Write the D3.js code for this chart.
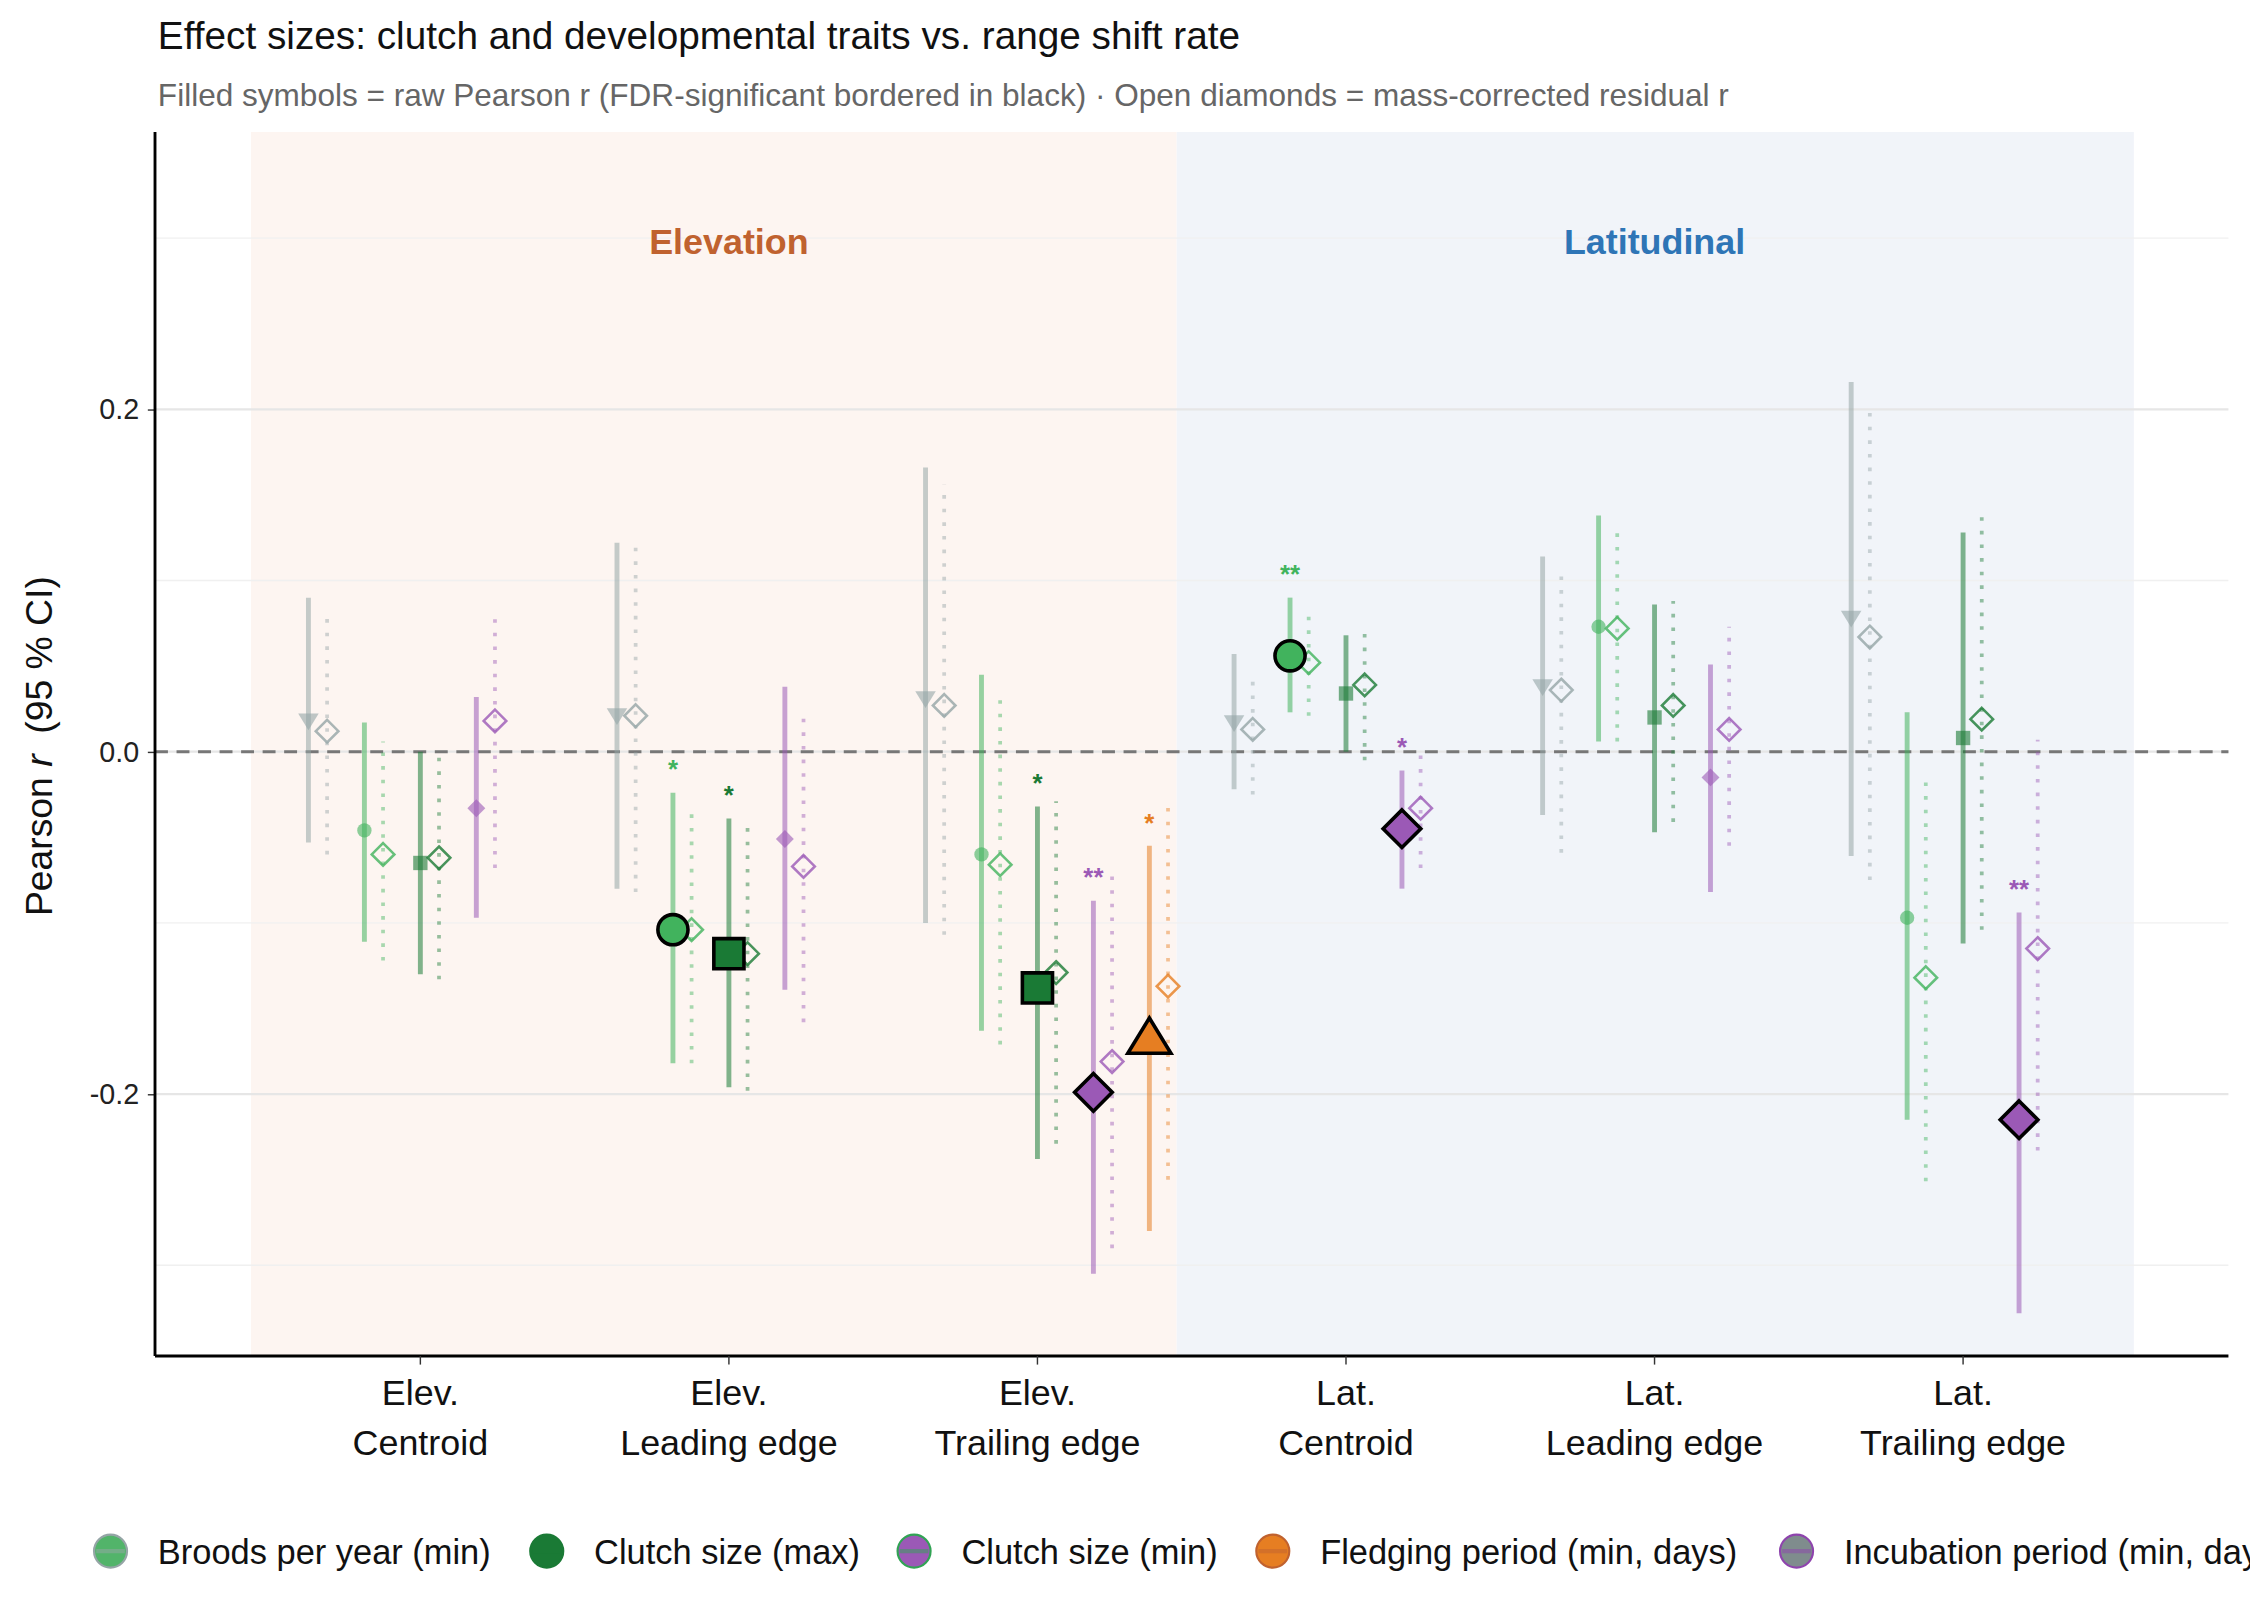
<!DOCTYPE html>
<html><head><meta charset="utf-8">
<script src="https://cdn.jsdelivr.net/npm/d3@7"></script>
<style>body{margin:0;background:#fff}svg{display:block;font-family:"Liberation Sans",Arial,sans-serif}</style>
</head><body>
<svg id="chart" width="2250" height="1620" viewBox="0 0 1568 1129"></svg>
<script>
const categories = ['Elev.|Centroid', 'Elev.|Leading edge', 'Elev.|Trailing edge', 'Lat.|Centroid', 'Lat.|Leading edge', 'Lat.|Trailing edge'];
const traits = ['Incubation period (min, days)', 'Broods per year (min)', 'Clutch size (max)', 'Clutch size (min)', 'Fledging period (min, days)'];
const yTicks = [0.2, 0.0, -0.2];

// raw r, lo, hi per category (null = not tested)
const incubRaw = [[0.018, -0.053, 0.09], [0.021, -0.08, 0.122], [0.031, -0.1, 0.166], [0.017, -0.022, 0.057], [0.038, -0.037, 0.114], [0.078, -0.061, 0.216]];
const broodsRaw = [[-0.046, -0.111, 0.017], [-0.104, -0.182, -0.024], [-0.06, -0.163, 0.045], [0.056, 0.023, 0.09], [0.073, 0.006, 0.138], [-0.097, -0.215, 0.023]];
const clutchMaxRaw = [[-0.065, -0.13, 0.0], [-0.118, -0.196, -0.039], [-0.138, -0.238, -0.032], [0.034, 0.0, 0.068], [0.02, -0.047, 0.086], [0.008, -0.112, 0.128]];
const clutchMinRaw = [[-0.033, -0.097, 0.032], [-0.051, -0.139, 0.038], [-0.199, -0.305, -0.087], [-0.045, -0.08, -0.011], [-0.015, -0.082, 0.051], [-0.215, -0.328, -0.094]];
const fledgingRaw = [null, null, [-0.167, -0.28, -0.055], null, null, null];

// mass-corrected residual r, lo, hi
const incubRes = [[0.012, -0.06, 0.079], [0.021, -0.082, 0.12], [0.027, -0.107, 0.156], [0.013, -0.025, 0.045], [0.036, -0.059, 0.107], [0.067, -0.075, 0.2]];
const broodsRes = [[-0.06, -0.122, 0.006], [-0.104, -0.182, -0.033], [-0.066, -0.171, 0.03], [0.052, 0.021, 0.083], [0.072, 0.006, 0.132], [-0.132, -0.251, -0.017]];
const clutchMaxRes = [[-0.062, -0.133, 0.002], [-0.118, -0.198, -0.039], [-0.129, -0.229, -0.029], [0.039, -0.005, 0.07], [0.027, -0.041, 0.088], [0.019, -0.104, 0.139]];
const clutchMinRes = [[0.018, -0.068, 0.079], [-0.067, -0.158, 0.023], [-0.181, -0.29, -0.068], [-0.033, -0.068, 0.0], [0.013, -0.055, 0.073], [-0.115, -0.233, 0.007]];
const fledgingRes = [null, null, [-0.137, -0.25, -0.03], null, null, null];

// FDR significance stars of raw r
const incubSig = ['', '', '', '', '', ''];
const broodsSig = ['', '*', '', '**', '', ''];
const clutchMaxSig = ['', '*', '*', '', '', ''];
const clutchMinSig = ['', '', '**', '*', '', '**'];
const fledgingSig = ['', '', '*', '', '', ''];

const traitRaw = [incubRaw, broodsRaw, clutchMaxRaw, clutchMinRaw, fledgingRaw];
const traitRes = [incubRes, broodsRes, clutchMaxRes, clutchMinRes, fledgingRes];
const traitSig = [incubSig, broodsSig, clutchMaxSig, clutchMinSig, fledgingSig];
const traitColor = ['#95a5a6', '#41b35d', '#1a7a35', '#9b59b6', '#e67e22'];
const traitShape = ['triDown', 'circle', 'square', 'diamond', 'triangle'];
const dodge = [-78, -39, 0, 39, 78];

const svg = d3.select('#chart');
const L = 108, R = 1553, T = 92, B = 945;

const x = d3.scalePoint().domain(categories).range([L, R]).padding(0.86);
const y = d3.scaleLinear().domain([-0.353, 0.362]).range([B, T]);

// facet shading
svg.append('rect').attr('x', x(categories[0]) - 118).attr('y', T)
  .attr('width', x(categories[2]) + 97 - (x(categories[0]) - 118)).attr('height', B - T).attr('fill', '#fdf5f1');
svg.append('rect').attr('x', x(categories[3]) - 118).attr('y', T)
  .attr('width', x(categories[5]) + 119 - (x(categories[3]) - 118)).attr('height', B - T).attr('fill', '#f1f4f9');

// grid
[-0.3, -0.1, 0.1, 0.3].forEach(v => svg.append('line').attr('x1', L).attr('x2', R)
  .attr('y1', y(v)).attr('y2', y(v)).attr('stroke', '#f0f0f0').attr('stroke-width', 1));
yTicks.forEach(v => svg.append('line').attr('x1', L).attr('x2', R)
  .attr('y1', y(v)).attr('y2', y(v)).attr('stroke', '#e6e6e6').attr('stroke-width', 1.5));

svg.append('text').attr('x', (x(categories[0]) + x(categories[2])) / 2).attr('y', 177)
  .attr('text-anchor', 'middle').attr('font-size', 25).attr('font-weight', 'bold').attr('fill', '#c0622f').text('Elevation');
svg.append('text').attr('x', (x(categories[3]) + x(categories[5])) / 2).attr('y', 177)
  .attr('text-anchor', 'middle').attr('font-size', 25).attr('font-weight', 'bold').attr('fill', '#2e75b6').text('Latitudinal');

svg.append('line').attr('x1', L).attr('x2', R).attr('y1', y(0)).attr('y2', y(0))
  .attr('stroke', '#777').attr('stroke-width', 2).attr('stroke-dasharray', '9,6');

function symPath(shape, s) {
  if (shape === 'circle') return d3.symbol(d3.symbolCircle, Math.PI * s * s)();
  if (shape === 'square') return d3.symbol(d3.symbolSquare, 4 * s * s)();
  if (shape === 'diamond') return `M0,${-s * 1.25}L${s * 1.25},0L0,${s * 1.25}L${-s * 1.25},0Z`;
  const h = s * 1.3;
  if (shape === 'triangle') return `M0,${-h}L${h * 1.1},${h * 0.8}L${-h * 1.1},${h * 0.8}Z`;
  return `M0,${h}L${h * 1.1},${-h * 0.8}L${-h * 1.1},${-h * 0.8}Z`;
}

const g = svg.append('g');
traits.forEach((t, ti) => {
  categories.forEach((c, ci) => {
    const raw = traitRaw[ti][ci], res = traitRes[ti][ci];
    if (!raw) return;
    const cx = x(c) + dodge[ti];
    const col = traitColor[ti];
    const sig = traitSig[ti][ci] !== '';
    // residual dotted CI + open diamond
    g.append('line').attr('x1', cx + 13).attr('x2', cx + 13).attr('y1', y(res[1])).attr('y2', y(res[2]))
      .attr('stroke', col).attr('stroke-opacity', 0.45).attr('stroke-width', 2.6).attr('stroke-dasharray', '2.5,7');
    // raw CI
    g.append('line').attr('x1', cx).attr('x2', cx).attr('y1', y(raw[1])).attr('y2', y(raw[2]))
      .attr('stroke', col).attr('stroke-opacity', 0.55).attr('stroke-width', 3.4);
    g.append('path').attr('d', symPath('diamond', 6.3)).attr('transform', `translate(${cx + 13},${y(res[0])})`)
      .attr('fill', 'none').attr('stroke', col).attr('stroke-opacity', 0.8).attr('stroke-width', 1.8);
    if (sig) {
      g.append('path').attr('d', symPath(traitShape[ti], 10.5)).attr('transform', `translate(${cx},${y(raw[0])})`)
        .attr('fill', col).attr('stroke', '#000').attr('stroke-width', 2.5);
      g.append('text').attr('x', cx).attr('y', y(raw[2]) - 10).attr('text-anchor', 'middle')
        .attr('font-size', 18).attr('font-weight', 'bold').attr('fill', col).text(traitSig[ti][ci]);
    } else {
      g.append('path').attr('d', symPath(traitShape[ti], 5)).attr('transform', `translate(${cx},${y(raw[0])})`)
        .attr('fill', col).attr('fill-opacity', 0.6);
    }
  });
});

// axes
const ya = svg.append('g').attr('transform', `translate(${L},0)`)
  .call(d3.axisLeft(y).tickValues(yTicks).tickFormat(d => d3.format('.1f')(d).replace('−', '-')).tickSize(5));
ya.select('.domain').remove();
ya.selectAll('text').attr('font-size', 20).attr('fill', '#222').attr('dx', -3);
ya.selectAll('line').attr('stroke', '#333');
svg.append('line').attr('x1', L).attr('x2', L).attr('y1', T).attr('y2', B).attr('stroke', '#000').attr('stroke-width', 2);
svg.append('line').attr('x1', L).attr('x2', R).attr('y1', B).attr('y2', B).attr('stroke', '#000').attr('stroke-width', 2);

categories.forEach(c => {
  svg.append('line').attr('x1', x(c)).attr('x2', x(c)).attr('y1', B).attr('y2', B + 6).attr('stroke', '#333');
  const p = c.split('|');
  svg.append('text').attr('x', x(c)).attr('y', 979).attr('text-anchor', 'middle').attr('font-size', 25).attr('fill', '#111').text(p[0]);
  svg.append('text').attr('x', x(c)).attr('y', 1014).attr('text-anchor', 'middle').attr('font-size', 25).attr('fill', '#111').text(p[1]);
});

const yl = svg.append('text').attr('transform', 'translate(36,520) rotate(-90)').attr('text-anchor', 'middle')
  .attr('font-size', 26).attr('fill', '#111');
yl.append('tspan').text('Pearson ');
yl.append('tspan').attr('font-style', 'italic').text('r');
yl.append('tspan').attr('xml:space', 'preserve').text('  (95 % CI)');

svg.append('text').attr('x', 110).attr('y', 34).attr('font-size', 27).attr('fill', '#111')
  .text('Effect sizes: clutch and developmental traits vs. range shift rate');
svg.append('text').attr('x', 110).attr('y', 74).attr('font-size', 22).attr('fill', '#666')
  .text('Filled symbols = raw Pearson r (FDR-significant bordered in black)  ·  Open diamonds = mass-corrected residual r');

// legend
const legendItems = ['Broods per year (min)', 'Clutch size (max)', 'Clutch size (min)', 'Fledging period (min, days)', 'Incubation period (min, days)'];
const legendFill = ['#52b46a', '#1a7a35', '#9b59b6', '#e67e22', '#7f8c8d'];
const legendStroke = ['#95a5a6', '#1a7a35', '#31a354', '#c0622f', '#8e44ad'];
const legendX = [77, 381, 637, 887, 1252];
legendItems.forEach((t, i) => {
  svg.append('circle').attr('cx', legendX[i]).attr('cy', 1081).attr('r', 11.5)
    .attr('fill', legendFill[i]).attr('stroke', legendStroke[i]).attr('stroke-width', 1.5);
  svg.append('line').attr('x1', legendX[i] - 10).attr('x2', legendX[i] + 10).attr('y1', 1081).attr('y2', 1081)
    .attr('stroke', legendStroke[i]).attr('stroke-opacity', 0.5).attr('stroke-width', 3);
  svg.append('text').attr('x', legendX[i] + 33).attr('y', 1090).attr('font-size', 24).attr('fill', '#111').text(t);
});
</script>
</body></html>
